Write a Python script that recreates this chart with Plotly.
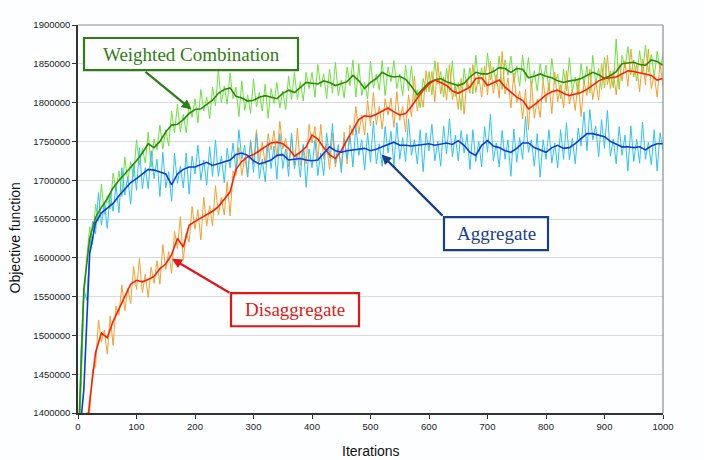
import plotly.graph_objects as go

# ---------------- data (values in thousands) ----------------
ITER_SMOOTH = list(range(0, 1001, 10))
ITER_RAW = list(range(0, 1001, 5))

GREEN_SMOOTH_K = [
    1350, 1560, 1625, 1652, 1665, 1676, 1690, 1700, 1708, 1716,
    1725, 1735, 1747, 1742, 1750, 1762, 1771, 1772, 1778, 1786,
    1791, 1792, 1798, 1803, 1812, 1817, 1819, 1808, 1806, 1802,
    1803, 1807, 1809, 1807, 1805, 1812, 1816, 1813, 1820, 1826,
    1825, 1824, 1828, 1826, 1822, 1825, 1827, 1835, 1828, 1818,
    1826, 1831, 1839, 1835, 1833, 1834, 1830, 1821, 1810, 1818,
    1826, 1829, 1831, 1827, 1824, 1822, 1825, 1833, 1839, 1837,
    1837, 1840, 1845, 1844, 1839, 1844, 1843, 1832, 1834, 1837,
    1834, 1832, 1828, 1826, 1828, 1829, 1831, 1835, 1839, 1836,
    1831, 1835, 1840, 1850, 1851, 1852, 1849, 1848, 1855, 1853,
    1848]

BLUE_SMOOTH_K = [
    1350, 1430, 1605, 1645, 1658, 1664, 1670, 1680, 1689, 1697,
    1702, 1708, 1714, 1713, 1710, 1708, 1694, 1708, 1714, 1717,
    1717, 1720, 1723, 1719, 1721, 1723, 1726, 1733, 1735, 1732,
    1725, 1721, 1723, 1726, 1732, 1733, 1726, 1727, 1728, 1726,
    1725, 1726, 1735, 1743, 1738, 1736, 1738, 1739, 1740, 1741,
    1738, 1740, 1743, 1746, 1749, 1745, 1745, 1744, 1745, 1746,
    1747, 1745, 1747, 1748, 1746, 1751, 1745, 1736, 1732, 1745,
    1751, 1744, 1742, 1738, 1736, 1741, 1748, 1748, 1742, 1739,
    1736, 1742, 1745, 1741, 1742, 1747, 1754, 1760, 1760, 1758,
    1756, 1750, 1746, 1743, 1743, 1742, 1743, 1739, 1744, 1747,
    1747]

RED_SMOOTH_K = [
    1300, 1340, 1415, 1478, 1503, 1497, 1518, 1534, 1550, 1566,
    1571, 1569, 1572, 1576, 1586, 1592, 1604, 1625, 1614, 1642,
    1647, 1651, 1656, 1660, 1666, 1676, 1685, 1714, 1724, 1730,
    1733, 1738, 1743, 1748, 1749, 1747, 1741, 1731, 1736, 1743,
    1758, 1753, 1742, 1733, 1728, 1738, 1752, 1766, 1778, 1783,
    1782, 1785, 1789, 1793, 1788, 1784, 1786, 1795, 1806, 1816,
    1824, 1829, 1826, 1822, 1815, 1812, 1816, 1820, 1831, 1832,
    1822, 1826, 1829, 1820, 1813, 1807, 1803, 1792, 1797, 1803,
    1810, 1814, 1816, 1812, 1809, 1811, 1813, 1817, 1822, 1828,
    1831, 1832, 1833, 1837, 1841, 1840, 1838, 1836, 1835, 1829,
    1831]

GREEN_RAW_K = [
    1300, 1430, 1545, 1600, 1640, 1617, 1669, 1647, 1695, 1656,
    1680, 1663, 1709, 1686, 1712, 1679, 1730, 1698, 1724, 1704,
    1752, 1720, 1741, 1722, 1762, 1717, 1753, 1739, 1771, 1740,
    1765, 1744, 1789, 1761, 1798, 1762, 1785, 1761, 1799, 1781,
    1805, 1774, 1817, 1789, 1807, 1779, 1820, 1796, 1842, 1800,
    1821, 1798, 1838, 1805, 1820, 1782, 1828, 1790, 1810, 1786,
    1830, 1795, 1813, 1789, 1824, 1780, 1818, 1799, 1826, 1793,
    1815, 1791, 1834, 1804, 1839, 1804, 1827, 1802, 1839, 1818,
    1839, 1807, 1849, 1820, 1837, 1805, 1843, 1812, 1852, 1809,
    1829, 1806, 1846, 1822, 1855, 1807, 1850, 1809, 1826, 1805,
    1853, 1819, 1837, 1816, 1854, 1809, 1846, 1827, 1854, 1818,
    1837, 1809, 1848, 1815, 1847, 1803, 1817, 1793, 1831, 1814,
    1840, 1810, 1854, 1824, 1840, 1807, 1844, 1814, 1854, 1808,
    1826, 1790, 1844, 1820, 1845, 1811, 1861, 1824, 1845, 1820,
    1864, 1829, 1846, 1824, 1860, 1817, 1855, 1835, 1860, 1826,
    1847, 1821, 1861, 1827, 1858, 1820, 1841, 1815, 1850, 1828,
    1848, 1815, 1857, 1824, 1837, 1805, 1843, 1815, 1858, 1814,
    1833, 1810, 1850, 1824, 1847, 1812, 1861, 1824, 1844, 1817,
    1858, 1823, 1841, 1819, 1882, 1817, 1861, 1844, 1872, 1836,
    1855, 1828, 1867, 1838, 1874, 1839, 1862, 1833, 1866, 1843,
    1862]

BLUE_RAW_K = [
    1300, 1480, 1560, 1545, 1610, 1647, 1631, 1684, 1642, 1670,
    1638, 1683, 1660, 1693, 1658, 1716, 1681, 1704, 1669, 1721,
    1687, 1742, 1689, 1716, 1689, 1738, 1702, 1727, 1679, 1736,
    1690, 1711, 1673, 1735, 1696, 1718, 1690, 1735, 1682, 1731,
    1708, 1745, 1700, 1726, 1694, 1743, 1705, 1752, 1705, 1731,
    1697, 1741, 1716, 1748, 1711, 1765, 1727, 1745, 1704, 1750,
    1710, 1760, 1702, 1727, 1698, 1749, 1715, 1744, 1701, 1760,
    1715, 1740, 1705, 1761, 1715, 1735, 1704, 1746, 1691, 1740,
    1716, 1752, 1706, 1735, 1706, 1761, 1729, 1773, 1722, 1746,
    1710, 1753, 1728, 1757, 1717, 1771, 1732, 1752, 1713, 1761,
    1723, 1776, 1721, 1747, 1718, 1769, 1735, 1763, 1718, 1774,
    1727, 1755, 1724, 1779, 1732, 1752, 1721, 1765, 1711, 1761,
    1738, 1772, 1725, 1750, 1718, 1770, 1734, 1779, 1730, 1758,
    1725, 1764, 1735, 1759, 1714, 1765, 1724, 1750, 1717, 1769,
    1736, 1785, 1725, 1748, 1717, 1764, 1727, 1752, 1705, 1766,
    1723, 1755, 1727, 1782, 1736, 1752, 1718, 1760, 1704, 1752,
    1727, 1765, 1722, 1748, 1716, 1765, 1727, 1774, 1726, 1754,
    1721, 1767, 1744, 1788, 1738, 1791, 1752, 1770, 1730, 1778,
    1741, 1790, 1731, 1753, 1721, 1769, 1732, 1758, 1712, 1770,
    1724, 1753, 1722, 1775, 1727, 1749, 1720, 1765, 1712, 1761,
    1738]

RED_RAW_K = [
    1250, 1300, 1330, 1401, 1400, 1456, 1459, 1520, 1492, 1507,
    1476, 1525, 1487, 1538, 1526, 1565, 1532, 1561, 1541, 1589,
    1559, 1599, 1555, 1579, 1549, 1588, 1567, 1596, 1566, 1617,
    1585, 1608, 1580, 1634, 1612, 1653, 1597, 1632, 1620, 1666,
    1637, 1662, 1623, 1678, 1641, 1667, 1641, 1693, 1655, 1678,
    1655, 1698, 1654, 1712, 1706, 1742, 1706, 1730, 1705, 1752,
    1721, 1765, 1724, 1749, 1720, 1760, 1739, 1764, 1729, 1776,
    1740, 1754, 1717, 1755, 1718, 1767, 1719, 1744, 1721, 1772,
    1748, 1769, 1725, 1772, 1727, 1747, 1714, 1761, 1717, 1740,
    1717, 1762, 1721, 1771, 1758, 1795, 1760, 1784, 1758, 1803,
    1770, 1813, 1771, 1795, 1766, 1805, 1784, 1806, 1768, 1814,
    1777, 1795, 1762, 1810, 1782, 1834, 1789, 1815, 1794, 1841,
    1814, 1840, 1801, 1852, 1811, 1833, 1803, 1849, 1804, 1821,
    1791, 1831, 1785, 1830, 1812, 1849, 1813, 1835, 1807, 1847,
    1810, 1853, 1812, 1836, 1806, 1866, 1811, 1832, 1793, 1838,
    1800, 1815, 1779, 1817, 1765, 1828, 1780, 1804, 1781, 1828,
    1800, 1825, 1786, 1839, 1801, 1823, 1793, 1841, 1798, 1817,
    1790, 1829, 1782, 1827, 1809, 1843, 1804, 1828, 1803, 1850,
    1819, 1861, 1818, 1841, 1810, 1849, 1828, 1854, 1821, 1869,
    1833, 1849, 1814, 1856, 1823, 1869, 1818, 1836, 1807, 1851,
    1821]

Y_TICKS_K = [1400, 1450, 1500, 1550, 1600, 1650, 1700, 1750, 1800, 1850, 1900]
X_TICKS = [0, 100, 200, 300, 400, 500, 600, 700, 800, 900, 1000]


def full(values_k):
    return [v * 1000 for v in values_k]


# ---------------- styling ----------------
BG = "#FCFEFF"
C_GREEN_RAW = "#6EE23A"
C_GREEN = "#2A8A06"
C_ORANGE_RAW = "#F7A02A"
C_RED = "#FF2000"
C_CYAN_RAW = "#2EC3F2"
C_BLUE = "#0A3CE0"
TICK_FONT = dict(family="Liberation Sans, Arial, sans-serif", size=9.5, color="#222222")
SERIF = "Liberation Serif, Times New Roman, serif"

fig = go.Figure()

raw_specs = [
    ("Weighted Combination (raw)", GREEN_RAW_K, C_GREEN_RAW),
    ("Disaggregate (raw)", RED_RAW_K, C_ORANGE_RAW),
    ("Aggregate (raw)", BLUE_RAW_K, C_CYAN_RAW),
]
for name, vals, col in raw_specs:
    fig.add_trace(go.Scatter(x=ITER_RAW, y=full(vals), mode="lines", name=name,
                             line=dict(color=col, width=1), showlegend=False))

smooth_specs = [
    ("Weighted Combination", GREEN_SMOOTH_K, C_GREEN),
    ("Disaggregate", RED_SMOOTH_K, C_RED),
    ("Aggregate", BLUE_SMOOTH_K, C_BLUE),
]
for name, vals, col in smooth_specs:
    fig.add_trace(go.Scatter(x=ITER_SMOOTH, y=full(vals), mode="lines", name=name,
                             line=dict(color=col, width=1.6), showlegend=False))

fig.update_layout(
    width=704, height=460,
    margin=dict(l=78, r=41, t=25, b=47),
    paper_bgcolor=BG, plot_bgcolor=BG,
    showlegend=False,
)

fig.update_xaxes(
    range=[0, 1000], tickvals=X_TICKS, ticktext=[str(t) for t in X_TICKS],
    showgrid=False, zeroline=False,
    showline=True, linecolor="#333333", linewidth=1.5,
    ticks="outside", ticklen=4, tickcolor="#333333", tickwidth=1,
    tickfont=TICK_FONT,
)
fig.update_yaxes(
    range=[1400000, 1900000], tickvals=full(Y_TICKS_K),
    ticktext=[str(v * 1000) for v in Y_TICKS_K],
    showgrid=True, gridcolor="#DADADA", gridwidth=1, zeroline=False,
    showline=True, linecolor="#333333", linewidth=1.5,
    ticks="outside", ticklen=4, tickcolor="#333333", tickwidth=1,
    tickfont=TICK_FONT,
)

# frame (top and right border in grey)
fig.add_shape(type="line", xref="paper", yref="paper", x0=0, x1=1, y0=1, y1=1,
              line=dict(color="#8C8C8C", width=1.2), layer="above")
fig.add_shape(type="line", xref="paper", yref="paper", x0=1, x1=1, y0=0, y1=1,
              line=dict(color="#8C8C8C", width=1.2), layer="above")

# axis titles
fig.add_annotation(text="Iterations", xref="paper", yref="paper", x=0.5, y=-0.098,
                   showarrow=False, yanchor="middle",
                   font=dict(family="Liberation Sans, Arial, sans-serif", size=14, color="#111111"))
fig.add_annotation(text="Objective function", xref="paper", yref="paper", x=-0.108, y=0.452,
                   showarrow=False, textangle=-90, xanchor="center", yanchor="middle",
                   font=dict(family="Liberation Sans, Arial, sans-serif", size=14, color="#111111"))

# callout boxes
boxes = [
    ("Weighted Combination", 84, 38, 298, 70, "#2F7D14", "#2F7D14"),
    ("Aggregate", 444, 217, 548, 250, "#173F8A", "#173F8A"),
    ("Disaggregate", 231, 293, 359, 326, "#E81414", "#E01A14"),
]
PW, PH, L, T = 585.0, 387.7, 78.0, 25.0
for txt, x0, y0, x1, y1, bcol, tcol in boxes:
    fig.add_shape(type="rect", xref="paper", yref="paper",
                  x0=(x0 - L) / PW, x1=(x1 - L) / PW,
                  y0=1 - (y1 - T) / PH, y1=1 - (y0 - T) / PH,
                  line=dict(color=bcol, width=2.2), fillcolor="white", layer="above")
    fig.add_annotation(text=txt, xref="paper", yref="paper",
                       x=((x0 + x1) / 2 - L) / PW, y=1 - ((y0 + y1) / 2 - T) / PH,
                       showarrow=False, xanchor="center", yanchor="middle",
                       font=dict(family=SERIF, size=19, color=tcol))

# arrows (tail at box corner, head at curve); tail given as pixel offset
arrows = [
    (144, 70.5, 191.5, 109.5, "#2F7D14"),
    (444, 217, 381.5, 154.5, "#173F8A"),
    (231, 293.5, 172, 258.5, "#E81414"),
]
for tx, ty, hx, hy, col in arrows:
    fig.add_annotation(text="", xref="paper", yref="paper",
                       x=(hx - L) / PW, y=1 - (hy - T) / PH,
                       axref="pixel", ayref="pixel",
                       ax=tx - hx, ay=ty - hy,
                       showarrow=True, arrowhead=2, arrowsize=0.9, arrowwidth=2.2,
                       arrowcolor=col, standoff=0, startstandoff=0)

fig.write_html("out.html")
